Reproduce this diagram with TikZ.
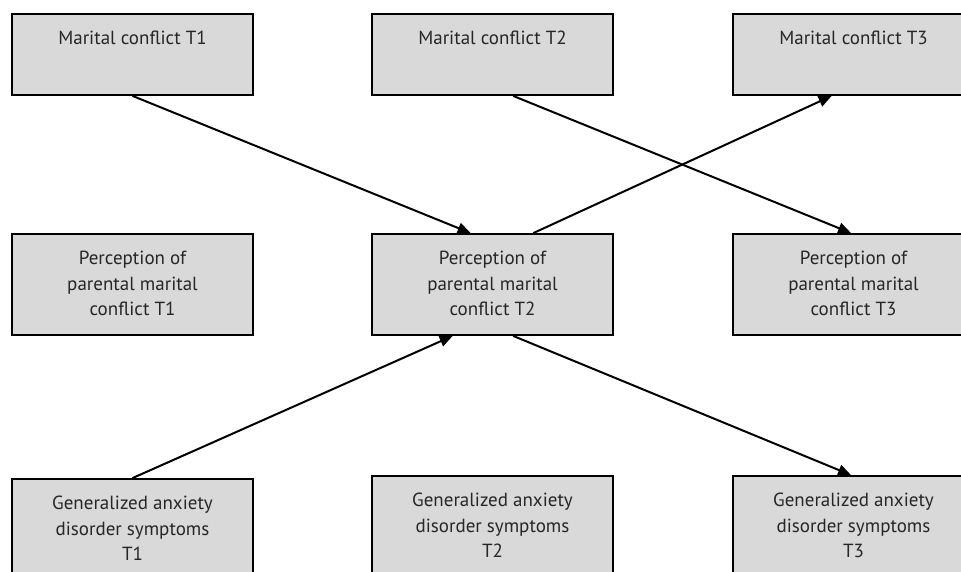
\documentclass[tikz,border=0pt]{standalone}
\usepackage{fontspec}
\setmainfont{PT Sans}
\usetikzlibrary{arrows.meta,calc}
\definecolor{boxgray}{HTML}{D9D9D9}
\definecolor{txtgray}{HTML}{262626}
\begin{document}
\begin{tikzpicture}[x=1pt,y=-1pt,
    box/.style={draw=black, fill=boxgray, line width=1.8pt, minimum width=241pt, inner sep=0pt},
    txt/.style={anchor=north, align=center, inner sep=0pt, yshift=-18pt, text=txtgray,
        font=\fontsize{19}{25.5}\selectfont},
    link/.style={line width=2pt, -{Triangle[length=13pt,width=11pt]}}]
    \useasboundingbox (0,0) rectangle (961,572);
    \clip (0,0) rectangle (961,572);

    % top row
    \node[box, minimum height=81pt, label={[txt]north:Marital conflict T1}] (mc1) at (132.5,54.5) {};
    \node[box, minimum height=81pt, label={[txt]north:Marital conflict T2}] (mc2) at (492.5,54.5) {};
    \node[box, minimum height=81pt, label={[txt]north:Marital conflict T3}] (mc3) at (853.5,54.5) {};

    % middle row
    \node[box, minimum height=101pt, label={[txt]north:Perception of\\parental marital\\conflict T1}] (pp1) at (132.5,284.5) {};
    \node[box, minimum height=101pt, label={[txt]north:Perception of\\parental marital\\conflict T2}] (pp2) at (492.5,284.5) {};
    \node[box, minimum height=101pt, label={[txt]north:Perception of\\parental marital\\conflict T3}] (pp3) at (853.5,284.5) {};

    % bottom row
    \node[box, minimum height=101pt, label={[txt]north:Generalized anxiety\\disorder symptoms\\T1}] (gad1) at (132.5,529.5) {};
    \node[box, minimum height=101pt, label={[txt]north:Generalized anxiety\\disorder symptoms\\T2}] (gad2) at (492.5,526.5) {};
    \node[box, minimum height=101pt, label={[txt]north:Generalized anxiety\\disorder symptoms\\T3}] (gad3) at (853.5,526.5) {};

    % cross-lagged paths
    \draw[link] (mc1.south) -- ($(pp2.north west)!0.41!(pp2.north east)$);
    \draw[link] ($(mc2.south west)!0.585!(mc2.south east)$) -- ($(pp3.north west)!0.49!(pp3.north east)$);
    \draw[link] ($(pp2.north west)!0.668!(pp2.north east)$) -- ($(mc3.south west)!0.41!(mc3.south east)$);
    \draw[link] (gad1.north) -- ($(pp2.south west)!0.336!(pp2.south east)$);
    \draw[link] ($(pp2.south west)!0.585!(pp2.south east)$) -- ($(gad3.north west)!0.49!(gad3.north east)$);
\end{tikzpicture}
\end{document}
